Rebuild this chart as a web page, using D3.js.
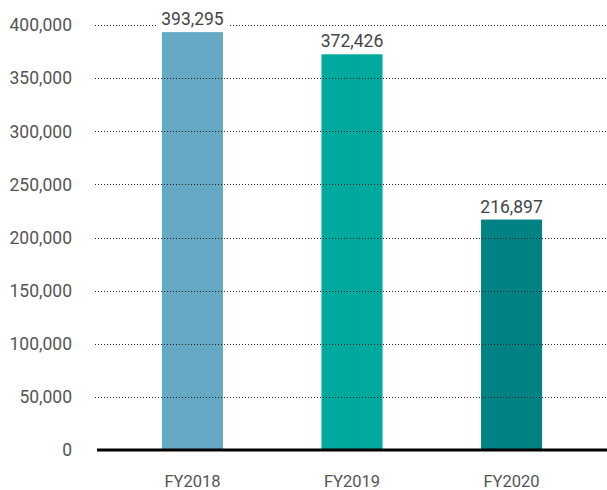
<!DOCTYPE html>
<html>
<head>
<meta charset="utf-8">
<script src="https://cdn.jsdelivr.net/npm/d3@7"></script>
<style>
  body { margin: 0; background: #fff; }
  text { font-family: Roboto, "Liberation Sans", sans-serif; }
</style>
</head>
<body>
<div id="chart"></div>
<script>
var width = 607,
    height = 490;

var years = ["FY2018", "FY2019", "FY2020"];
var values = [393295, 372426, 216897];
var colors = ["#66a9c5", "#00a99d", "#008184"];
var yTicks = [0, 50000, 100000, 150000, 200000, 250000, 300000, 350000, 400000];

var margin = {top: 25, right: 0, bottom: 40, left: 97};

var svg = d3.select("#chart").append("svg")
    .attr("width", width)
    .attr("height", height);

var x = d3.scaleBand()
    .domain(years)
    .range([margin.left, width - margin.right])
    .paddingInner(0.6175)
    .paddingOuter(0.407);

var y = d3.scaleLinear()
    .domain([0, 400000])
    .range([height - margin.bottom, margin.top]);

var fmt = d3.format(",");

// bars
svg.append("g")
  .selectAll("rect")
  .data(values)
  .enter().append("rect")
    .attr("x", function(d, i) { return x(years[i]); })
    .attr("y", function(d) { return y(d); })
    .attr("width", x.bandwidth())
    .attr("height", function(d) { return y(0) - y(d); })
    .attr("fill", function(d, i) { return colors[i]; });

// dotted grid lines, drawn over bars
svg.append("g")
  .selectAll("line")
  .data(yTicks.filter(function(t) { return t > 0; }))
  .enter().append("line")
    .attr("x1", margin.left - 2)
    .attr("x2", width)
    .attr("y1", function(d) { return Math.round(y(d)) + 0.5; })
    .attr("y2", function(d) { return Math.round(y(d)) + 0.5; })
    .attr("stroke", "#222")
    .attr("stroke-width", 1)
    .attr("stroke-dasharray", "1,2");

// baseline
svg.append("line")
    .attr("x1", margin.left)
    .attr("x2", width)
    .attr("y1", y(0))
    .attr("y2", y(0))
    .attr("stroke", "#000")
    .attr("stroke-width", 3);

// y axis labels
svg.append("g")
  .selectAll("text")
  .data(yTicks)
  .enter().append("text")
    .attr("x", 72)
    .attr("y", function(d) { return y(d); })
    .attr("dy", "0.36em")
    .attr("text-anchor", "end")
    .attr("fill", "#555")
    .style("font-size", "17.5px")
    .text(fmt);

// x labels
svg.append("g")
  .selectAll("text")
  .data(years)
  .enter().append("text")
    .attr("x", function(d) { return x(d) + x.bandwidth() / 2; })
    .attr("y", 487)
    .attr("text-anchor", "middle")
    .attr("fill", "#555")
    .style("font-size", "16.5px")
    .text(function(d) { return d; });

// value labels with white backing
var lab = svg.append("g")
  .selectAll("g")
  .data(values)
  .enter().append("g")
    .attr("transform", function(d, i) {
      return "translate(" + (x(years[i]) + x.bandwidth() / 2) + "," + (y(d) - 7) + ")";
    });

lab.append("text")
    .attr("text-anchor", "middle")
    .attr("fill", "#444")
    .style("font-size", "17.5px")
    .text(fmt)
    .each(function() {
      var b = this.getBBox();
      d3.select(this.parentNode).insert("rect", "text")
        .attr("x", b.x - 4)
        .attr("y", b.y)
        .attr("width", b.width + 8)
        .attr("height", b.height)
        .attr("fill", "#fff");
    });
</script>
</body>
</html>
